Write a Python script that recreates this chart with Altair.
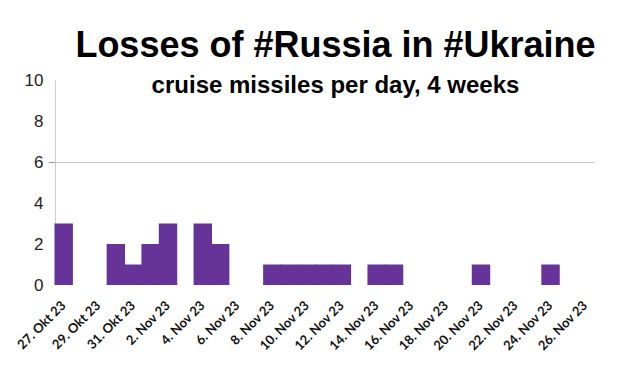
import altair as alt
import pandas as pd

days = ["27. Okt 23", "28. Okt 23", "29. Okt 23", "30. Okt 23", "31. Okt 23"] + \
       [f"{d}. Nov 23" for d in range(1, 27)]
missiles = [3, 0, 0, 2, 1, 2, 3, 0, 3, 2, 0, 0, 1, 1, 1, 1, 1, 0, 1, 1,
            0, 0, 0, 0, 1, 0, 0, 0, 1, 0, 0]
label_days = days[::2]
y_ticks = [0, 2, 4, 6, 8, 10]

df = pd.DataFrame({"day": days, "missiles": missiles})

chart = alt.Chart(df).mark_bar(color="#663399", opacity=1, fillOpacity=1,
                               width=alt.RelativeBandSize(1.06)).encode(
    x=alt.X("day:N", sort=days, title=None,
            scale=alt.Scale(paddingInner=0, paddingOuter=0),
            axis=alt.Axis(values=label_days, labelAngle=-45, labelAlign="right",
                          labelBaseline="middle", labelPadding=18, ticks=False,
                          grid=False, domain=False, labelFont="Lato",
                          labelFontWeight="bold", labelFontSize=13,
                          labelColor="#111")),
    y=alt.Y("missiles:Q", title=None,
            scale=alt.Scale(domain=[0, 10], nice=False),
            axis=alt.Axis(values=y_ticks, grid=True,
                          gridOpacity={"condition": {"test": "datum.value == 6", "value": 1}, "value": 0},
                          tickOpacity={"condition": {"test": "datum.value == 6", "value": 1}, "value": 0},
                          gridColor="#c4c4c4", tickColor="#9a9a9a", tickSize=7,
                          domainColor="#cccccc", labelPadding=5,
                          labelFont="Liberation Sans", labelFontSize=17,
                          labelColor="#222")),
).properties(
    width=539,
    height=205,
    padding={"left": 47, "top": 72, "right": 16, "bottom": 80},
    autosize=alt.AutoSizeParams(type="none"),
    title=alt.TitleParams(
        text="Losses of #Russia in #Ukraine",
        subtitle="cruise missiles per day, 4 weeks",
        anchor="middle", dx=11, offset=-28,
        font="Liberation Sans", fontSize=36, fontWeight="bold", color="#000",
        subtitleFont="Liberation Sans", subtitleFontSize=24,
        subtitleFontWeight="bold", subtitleColor="#000", subtitlePadding=9,
    ),
).configure_view(stroke=None)

chart.save("out.html", embed_options={"renderer": "svg", "actions": False})
